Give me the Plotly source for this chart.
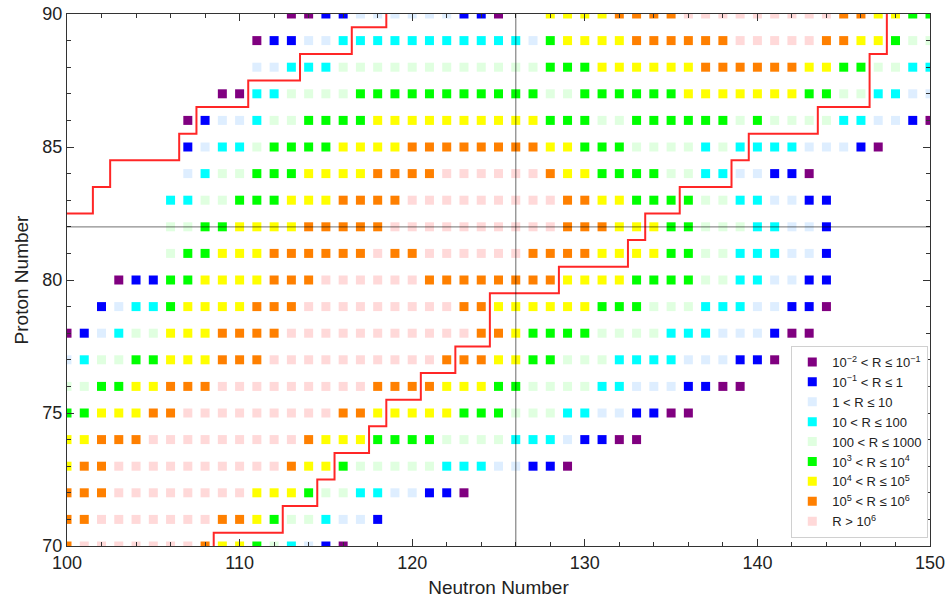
import plotly.graph_objects as go

# ---------------- data ----------------
ROW_Z = [90, 89, 88, 87, 86, 85, 84, 83, 82, 81, 80, 79, 78, 77, 76, 75, 74, 73, 72, 71, 70]
ROW_START_N = [113, 111, 111, 109, 107, 107, 107, 106, 106, 106, 103, 102, 100, 100, 100, 100, 100, 100, 100, 100, 100]
# one letter per neutron number, starting at ROW_START_N ('.' = no nucleus)
ROW_CODES = [
    "PPBBLLLLLLBBP" ".." "YYYY" "OOOO" "KKKKKKKKK" "OO" "YY" "GG",
    "PBBLL" "CCCCCCCCCCC" "LG" "YYYY" "OOOOOO" "KKKKK" "OOYYGHH",
    "LLCCC" "HHHHHHHHHHHH" "GGG" "YYYYYY" "OOOOOO" "YYGGHHCC",
    "PPCCHHHH" "GGGGGGGGGGG" "HH" "GGGGGG" "YYYYYYY" "GGHHCCLL",
    "PBLLCHHGGGG" "YYYYYYYYYY" "GGGHH" "GGGGGG" "HGHHHHCCLLBP",
    "BLCCHGGGGYYYY" "OOOOOOOO" "YYGGGHHHHCHCCCCLLLBP",
    "LCHHGGGYYYYOOOO" "KKKKKK" "OYYGGGGHHCCLLBBP",
    "CCHHGGGYYYOOOO" "KKKKKKKKK" "OOYYGGGGHHCCLLBB",
    "HHGGYYYY" "OOOOO" "KKKKKKKKKK" "OOOYYYGGHHHCCLLB",
    "HGGYYYOOOOOOKOO" "KKKKKK" "OOOOYYYYGGHHCCCLLB",
    "PBBGGYYYYOOO" "KKKKKK" "OOOOOOOO" "YYYYGGGGHHCCLLBB",
    "BLCCGYYYYOOO" "KKKKKKKKK" "OO" "YYYYYY" "GGGHHHCCCLLBBP",
    "PBLCHHYYYOOOO" "KKKKKKKKKKK" "OOYGGGGHHHHCCCLLLBPP",
    "LCHHGGYYYOOO" "KKKKKKKKKK" "OOOYYGGHHHCCCCLLLBBP",
    "HHGGYYOOO" "KKKKKKKKK" "OOOOYYYGGHHHHCCLLLBBPP",
    "GGYYYOO" "KKKKKKKKK" "OO" "YYYYY" "GGGHHHCCLLBBPP",
    "YYOOO" "KKKKKKKKK" "OYYYGGGGHHHHCCCLBBPP",
    "YOO" "KKKKKKKKKK" "OYYGHHHHHCCCLLBBP",
    "OOO" "KKKKKKKK" "YYYGHHCCLLBBP",
    "OO" "KKKKKKK" "OOYGHHCLLB",
    "O" "KKKKKKK" "OYYGHCLBP",
]

CATEGORY_CODES = ["P", "B", "L", "C", "H", "G", "Y", "O", "K"]
CATEGORY_LABELS = [
    "10<sup>−2</sup> &lt; R ≤ 10<sup>−1</sup>",
    "10<sup>−1</sup> &lt; R ≤ 1",
    "1 &lt; R ≤ 10",
    "10 &lt; R ≤ 100",
    "100 &lt; R ≤ 1000",
    "10<sup>3</sup> &lt; R ≤ 10<sup>4</sup>",
    "10<sup>4</sup> &lt; R ≤ 10<sup>5</sup>",
    "10<sup>5</sup> &lt; R ≤ 10<sup>6</sup>",
    "R &gt; 10<sup>6</sup>",
]

# boundary staircases (N, Z corner points)
LEFT_LINE_N = [100, 101.5, 102.5, 106.5, 107.5, 110.5, 113.5, 116.5, 118.5]
LEFT_LINE_Z = [82.5, 83.5, 84.5, 85.5, 86.5, 87.5, 88.5, 89.5, 90]
RIGHT_LINE_N = [108.5, 112.5, 114.5, 115.5, 117.5, 118.5, 120.5, 122.5, 124.5, 128.5,
                132.5, 133.5, 135.5, 138.5, 139.5, 143.5, 146.5, 147.5, 147.5]
RIGHT_LINE_Z = [70, 70.5, 71.5, 72.5, 73.5, 74.5, 75.5, 76.5, 77.5, 79.5,
                80.5, 81.5, 82.5, 83.5, 84.5, 85.5, 86.5, 88.5, 90]

MAGIC_N = 126
MAGIC_Z = 82

X_TICKS = [100, 110, 120, 130, 140, 150]
Y_TICKS = [70, 75, 80, 85, 90]

# ---------------- style ----------------
CATEGORY_COLORS = ["#800080", "#0000FF", "#DEEEFF", "#00FFFF", "#E0FFE0",
                   "#00FF00", "#FFFF00", "#FF8000", "#FFD9D9"]
FONT = "Liberation Sans, Arial, sans-serif"

# expand rows into points per category
points = {c: ([], []) for c in CATEGORY_CODES}
for z, n0, codes in zip(ROW_Z, ROW_START_N, ROW_CODES):
    for i, ch in enumerate(codes):
        if ch in points:
            points[ch][0].append(n0 + i)
            points[ch][1].append(z)

fig = go.Figure()
for code, label, color in zip(CATEGORY_CODES, CATEGORY_LABELS, CATEGORY_COLORS):
    xs, ys = points[code]
    fig.add_trace(go.Scatter(
        x=xs, y=ys, mode="markers", name=label,
        marker=dict(symbol="square", size=9, color=color, line=dict(width=0)),
        cliponaxis=True,
    ))

fig.add_trace(go.Scatter(x=LEFT_LINE_N, y=LEFT_LINE_Z, mode="lines", line_shape="hv",
                         line=dict(color="rgba(255,0,0,0.85)", width=2), showlegend=False))
fig.add_trace(go.Scatter(x=RIGHT_LINE_N, y=RIGHT_LINE_Z, mode="lines", line_shape="vh",
                         line=dict(color="rgba(255,0,0,0.85)", width=2), showlegend=False))

fig.add_shape(type="line", xref="x", yref="paper", x0=MAGIC_N, x1=MAGIC_N, y0=0, y1=1,
              line=dict(color="rgba(0,0,0,0.45)", width=1.3), layer="above")
fig.add_shape(type="line", xref="paper", yref="y", x0=0, x1=1, y0=MAGIC_Z, y1=MAGIC_Z,
              line=dict(color="rgba(0,0,0,0.45)", width=1.3), layer="above")

axis_common = dict(
    showgrid=False, zeroline=False, showline=True, linecolor="#333", linewidth=1.3,
    mirror="ticks", ticks="inside", ticklen=7, tickwidth=1, tickcolor="#333",
    tickfont=dict(family=FONT, size=18, color="#222"), automargin=False,
)
fig.update_xaxes(range=[100, 150], tickvals=X_TICKS,
                 minor=dict(dtick=2, ticks="inside", ticklen=4, tickcolor="#333"),
                 title=dict(text="Neutron Number", font=dict(family=FONT, size=19, color="#222"), standoff=8),
                 **axis_common)
fig.update_yaxes(range=[70, 90], tickvals=Y_TICKS,
                 minor=dict(dtick=1, ticks="inside", ticklen=4, tickcolor="#333"),
                 title=dict(text="Proton Number", font=dict(family=FONT, size=19, color="#222"), standoff=8),
                 **axis_common)

fig.update_layout(
    width=949, height=600,
    margin=dict(l=67, r=19, t=14, b=54),
    plot_bgcolor="white", paper_bgcolor="white",
    legend=dict(x=0.998, xanchor="right", y=0.015, yanchor="bottom",
                bgcolor="white", bordercolor="#d0d0d0", borderwidth=1,
                font=dict(family=FONT, size=13, color="#222"),
                itemwidth=30, tracegroupgap=0),
)

fig.write_html("out.html")
